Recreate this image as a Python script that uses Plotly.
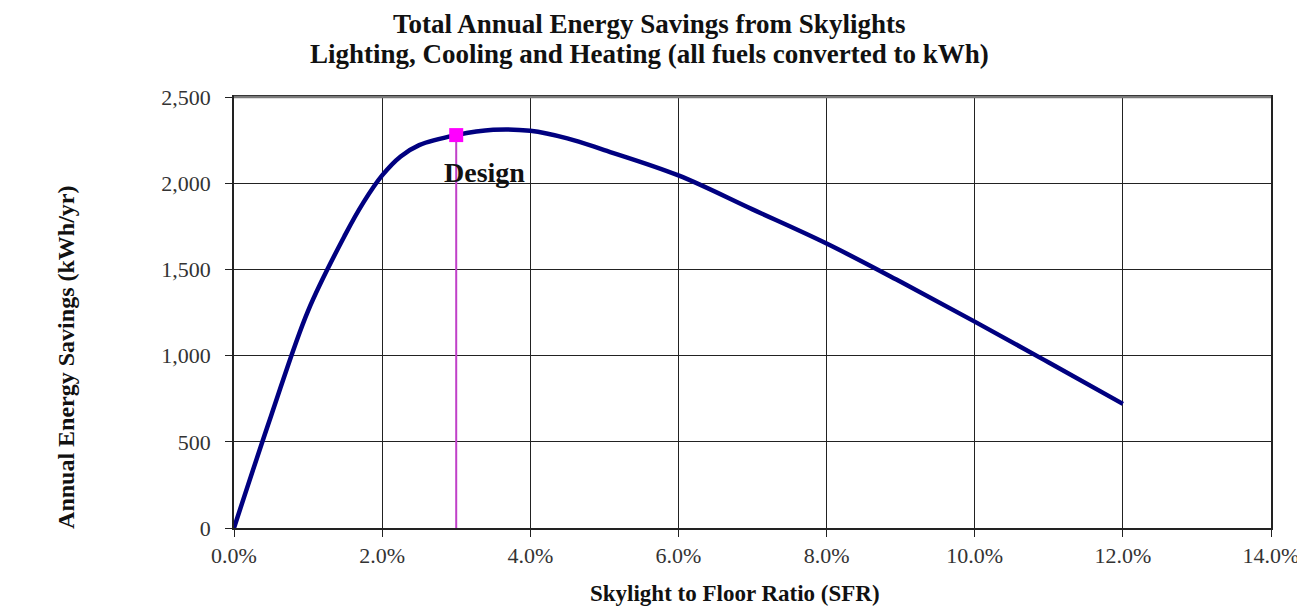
import plotly.graph_objects as go

# Skylight-to-floor ratio (fraction) and total annual savings (kWh/yr)
sfr = [0.0, 0.005, 0.01, 0.015, 0.0175, 0.02, 0.0225, 0.025, 0.03, 0.035,
       0.04, 0.045, 0.05, 0.06, 0.07, 0.08, 0.09, 0.10, 0.11, 0.12]
savings = [0, 650, 1260, 1700, 1890, 2045, 2155, 2221, 2279, 2310,
           2304, 2260, 2192, 2045, 1848, 1650, 1428, 1197, 960, 720]

design_sfr = 0.03
design_savings = 2279
design_label = "Design"

x_ticks = [0.0, 0.02, 0.04, 0.06, 0.08, 0.10, 0.12, 0.14]
y_ticks = [0, 500, 1000, 1500, 2000, 2500]

title_lines = ["Total Annual Energy Savings from Skylights",
               "Lighting, Cooling and Heating (all fuels converted to kWh)"]
x_title = "Skylight to Floor Ratio (SFR)"
y_title = "Annual Energy Savings (kWh/yr)"

SERIF = "Liberation Serif, Times New Roman, serif"
TEXT = "#111111"

fig = go.Figure()

# design marker stem
fig.add_trace(go.Scatter(
    x=[design_sfr, design_sfr], y=[0, design_savings],
    mode="lines", line=dict(color="#C040C8", width=2),
    hoverinfo="skip", showlegend=False))

# savings curve
fig.add_trace(go.Scatter(
    x=sfr, y=savings, mode="lines",
    line=dict(color="#000080", width=4.5, shape="spline", smoothing=1.0),
    showlegend=False))

# design point
fig.add_trace(go.Scatter(
    x=[design_sfr], y=[design_savings], mode="markers",
    marker=dict(symbol="square", size=14, color="#FF00FF"),
    showlegend=False))

fig.add_annotation(
    x=design_sfr, y=design_savings, text="<b>" + design_label + "</b>",
    showarrow=False, xanchor="center", yanchor="middle",
    xshift=28, yshift=-37,
    font=dict(family=SERIF, size=28, color=TEXT))

# two-line chart title
for text, ypos in zip(title_lines, [1.1684, 1.0989]):
    fig.add_annotation(
        xref="paper", yref="paper", x=0.4002, y=ypos,
        text="<b>" + text + "</b>", showarrow=False,
        xanchor="center", yanchor="middle",
        font=dict(family=SERIF, size=27, color=TEXT))

# axis titles
fig.add_annotation(
    xref="paper", yref="paper", x=0.4831, y=-0.1522,
    text="<b>" + x_title + "</b>", showarrow=False,
    xanchor="center", yanchor="middle",
    font=dict(family=SERIF, size=23, color=TEXT))
fig.add_annotation(
    xref="paper", yref="paper", x=-0.162, y=0.3946,
    text="<b>" + y_title + "</b>", showarrow=False, textangle=-90,
    xanchor="center", yanchor="middle",
    font=dict(family=SERIF, size=24, color=TEXT))

# grey top edge of the plot frame
fig.add_shape(type="line", xref="paper", yref="paper",
              x0=0, x1=1, y0=1, y1=1,
              line=dict(color="#7a7a7a", width=2.5))

fig.update_layout(
    width=1297, height=609,
    margin=dict(l=234, r=26, t=97, b=81),
    paper_bgcolor="white", plot_bgcolor="white",
    font=dict(family=SERIF),
)

fig.update_xaxes(
    range=[0, 0.14], tickvals=x_ticks, tickformat=".1%",
    showgrid=True, gridcolor="#222", gridwidth=1,
    showline=True, linecolor="#222", linewidth=1.5, mirror=True,
    ticks="outside", ticklen=7, tickcolor="#222",
    ticklabeloverflow="allow",
    tickfont=dict(family=SERIF, size=22, color="#333"),
    zeroline=False, automargin=False)

fig.update_yaxes(
    range=[0, 2500], tickvals=y_ticks, tickformat=",",
    showgrid=True, gridcolor="#222", gridwidth=1,
    showline=True, linecolor="#222", linewidth=1.5, mirror=True,
    ticks="outside", ticklen=7, tickcolor="#222", ticklabelstandoff=10,
    tickfont=dict(family=SERIF, size=22, color="#333"),
    zeroline=False, automargin=False)

fig.write_html("out.html")
